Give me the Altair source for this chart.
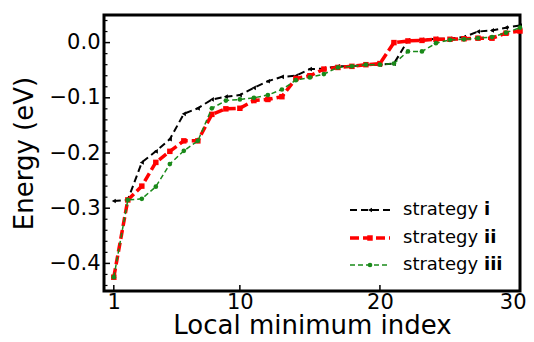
import altair as alt
import pandas as pd

# ---- data ----
index = list(range(1, 31))
strategy_i = [-0.287, -0.285, -0.217, -0.197, -0.175, -0.129, -0.119, -0.103, -0.098, -0.095,
              -0.082, -0.070, -0.062, -0.060, -0.048, -0.047, -0.043, -0.043, -0.040, -0.040,
              -0.038, 0.004, 0.005, 0.007, 0.007, 0.010, 0.020, 0.022, 0.027, 0.031]
strategy_ii = [-0.425, -0.285, -0.260, -0.217, -0.197, -0.178, -0.178, -0.130, -0.120, -0.119,
               -0.105, -0.103, -0.098, -0.065, -0.060, -0.048, -0.045, -0.043, -0.040, -0.038,
               0.000, 0.003, 0.004, 0.006, 0.006, 0.007, 0.008, 0.008, 0.017, 0.021]
strategy_iii = [-0.425, -0.285, -0.283, -0.261, -0.220, -0.196, -0.178, -0.119, -0.105, -0.103,
                -0.100, -0.095, -0.085, -0.068, -0.063, -0.057, -0.045, -0.043, -0.040, -0.040,
                -0.038, -0.016, -0.016, -0.001, 0.005, 0.006, 0.008, 0.010, 0.018, 0.027]
series_names = ["i", "ii", "iii"]
x_tick_values = [1, 10, 20, 30]
y_major_ticks = [-0.4, -0.3, -0.2, -0.1, 0.0]
y_minor_ticks = [-0.44, -0.42, -0.38, -0.36, -0.34, -0.32, -0.28, -0.26, -0.24, -0.22,
                 -0.18, -0.16, -0.14, -0.12, -0.08, -0.06, -0.04, -0.02, 0.02, 0.04]

FONT = "DejaVu Sans"
W, H = 416, 276

xs = alt.Scale(domain=[0.3, 30], nice=False, zero=False)
ys = alt.Scale(domain=[-0.45, 0.05], nice=False, zero=False)

styles = {
    "i": dict(color="black", width=2, dash=[7, 4], shape="triangle-left", size=22),
    "ii": dict(color="#ff0000", width=3.5, dash=[9, 4], shape="square", size=30),
    "iii": dict(color="#1a8a1a", width=1.5, dash=[5, 3], shape="circle", size=22),
}
values = {"i": strategy_i, "ii": strategy_ii, "iii": strategy_iii}

x_axis = alt.Axis(values=x_tick_values, title="Local minimum index", format="d",
                  labelFontSize=21, titleFontSize=26, ticks=False, domain=False,
                  grid=False, labelPadding=0, titlePadding=0,
                  labelFlush=True, labelFlushOffset=6,
                  labelColor="black", titleColor="black", titleFontWeight="normal")
y_axis = alt.Axis(values=y_major_ticks, title="Energy (eV)", format=".1f",
                  labelFontSize=21, titleFontSize=26, ticks=False, domain=False,
                  grid=False, labelPadding=4, titlePadding=12,
                  labelColor="black", titleColor="black", titleFontWeight="normal")


def X():
    return alt.X("index:Q", scale=xs, axis=x_axis)


def Y():
    return alt.Y("energy:Q", scale=ys, axis=y_axis)


layers = []
for name in series_names:
    st = styles[name]
    df = pd.DataFrame({"index": index, "energy": values[name]})
    base = alt.Chart(df)
    line = base.mark_line(color=st["color"], strokeWidth=st["width"],
                          strokeDash=st["dash"]).encode(x=X(), y=Y())
    pts = base.mark_point(shape=st["shape"], filled=True, color=st["color"],
                          size=st["size"], opacity=1).encode(x=X(), y=Y())
    layers += [line, pts]

# inward ticks
xt = alt.Chart(pd.DataFrame({"index": x_tick_values})).mark_rule(color="black", strokeWidth=1.5).encode(
    x=X(), y=alt.value(H), y2=alt.value(H - 6))
ymaj = alt.Chart(pd.DataFrame({"energy": y_major_ticks})).mark_rule(color="black", strokeWidth=1.5).encode(
    y=Y(), x=alt.value(0), x2=alt.value(6))
ymin = alt.Chart(pd.DataFrame({"energy": y_minor_ticks})).mark_rule(color="black", strokeWidth=1.2).encode(
    y=Y(), x=alt.value(0), x2=alt.value(3.5))
layers += [xt, ymaj, ymin]

# manual legend (inside lower right)
one = pd.DataFrame({"k": [0]})
rows_y = [195, 223, 250]
for name, yy in zip(series_names, rows_y):
    st = styles[name]
    layers.append(alt.Chart(one).mark_rule(color=st["color"], strokeWidth=st["width"],
                                           strokeDash=st["dash"]).encode(
        x=alt.value(246), x2=alt.value(286), y=alt.value(yy)))
    layers.append(alt.Chart(one).mark_point(shape=st["shape"], filled=True, color=st["color"],
                                            size=st["size"], opacity=1).encode(
        x=alt.value(266), y=alt.value(yy)))
    layers.append(alt.Chart(one).mark_text(align="left", baseline="middle", fontSize=18,
                                           font=FONT, color="black").encode(
        x=alt.value(299), y=alt.value(yy), text=alt.value("strategy")))
    layers.append(alt.Chart(one).mark_text(align="left", baseline="middle", fontSize=18,
                                           font=FONT, fontWeight="bold", color="black").encode(
        x=alt.value(380), y=alt.value(yy), text=alt.value(name)))

chart = alt.layer(*layers).properties(
    width=W, height=H,
    autosize="none",
    padding={"left": 96, "top": 7, "right": 6, "bottom": 43},
).configure(font=FONT).configure_view(stroke="black", strokeWidth=3)

chart.save("out.html", embed_options={"renderer": "svg", "actions": False})
